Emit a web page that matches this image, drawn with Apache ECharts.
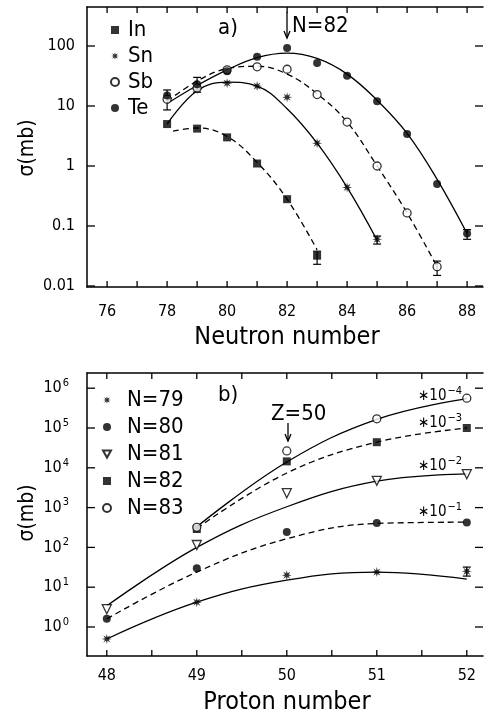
<!DOCTYPE html>
<html>
<head>
<meta charset="utf-8">
<script src="https://cdn.jsdelivr.net/npm/echarts@6/dist/echarts.min.js"></script>
<style>
  html, body { margin: 0; padding: 0; background: #fff; }
  #chart { width: 484px; height: 716px; }
</style>
</head>
<body>
<div id="chart"></div>
<script>
// ---- panel a) : cross section vs neutron number ----
const neutronTicks = [76, 77, 78, 79, 80, 81, 82, 83, 84, 85, 86, 87, 88];
const neutronLabels = [76, 78, 80, 82, 84, 86, 88];
const sigmaTicksA = [0.01, 0.1, 1, 10, 100];

const inPts = [[78, 5.0], [79, 4.2], [80, 3.0], [81, 1.1], [82, 0.28], [83, 0.032]];
const snPts = [[79, 19], [80, 24], [81, 21.5], [82, 14], [83, 2.4], [84, 0.44], [85, 0.06]];
const sbPts = [[78, 13], [79, 20], [80, 40], [81, 45], [82, 41], [83, 15.5], [84, 5.4], [85, 1.0], [86, 0.165], [87, 0.021]];
const tePts = [[78, 15], [79, 23], [80, 38], [81, 66], [82, 93], [83, 52], [84, 32], [85, 12], [86, 3.4], [87, 0.5], [88, 0.075]];

// fitted curves
const inFit = [[78.2, 3.8], [79, 4.3], [80, 3.1], [81, 1.15], [82, 0.28], [83, 0.04]];
const snFit = [[78, 5], [79, 18], [80, 25], [81, 21.5], [82, 9], [83, 2.4], [84, 0.44], [85, 0.058]];
const sbFit = [[78, 12], [79, 26], [80, 42], [81, 46], [82, 34], [83, 16], [84, 5.4], [85, 1.0], [86, 0.165], [87, 0.021]];
const teFit = [[78, 11], [79, 22], [80, 40], [81, 64], [82, 76], [83, 62], [84, 34], [85, 12.5], [86, 3.5], [87, 0.6], [88, 0.075]];

// error bars [x, low, high]
const errA = [[83, 0.023, 0.038], [85, 0.05, 0.068], [87, 0.015, 0.026], [88, 0.06, 0.087], [78, 8.6, 18.5], [79, 17, 30]];

// ---- panel b) : cross section vs proton number ----
const protonTicks = [48, 48.5, 49, 49.5, 50, 50.5, 51, 51.5, 52];
const protonLabels = [48, 49, 50, 51, 52];
const sigmaTicksB = [1, 10, 100, 1e3, 1e4, 1e5, 1e6];

const n79Pts = [[48, 0.5], [49, 4.2], [50, 20], [51, 24], [52, 25]];
const n80Pts = [[48, 1.6], [49, 30], [50, 245], [51, 410], [52, 420]];
const n81Pts = [[48, 2.8], [49, 115], [50, 2300], [51, 4700], [52, 6900]];
const n82Pts = [[49, 290], [50, 14500], [51, 44000], [52, 100000]];
const n83Pts = [[49, 320], [50, 26500], [51, 170000], [52, 560000]];

const n79Fit = [[48, 0.5], [49, 4.2], [50, 15], [51, 24], [52, 16]];
const n80Fit = [[48, 1.6], [49, 24], [50, 165], [51, 400], [52, 430]];
const n81Fit = [[48, 3.4], [49, 100], [50, 1050], [51, 4600], [52, 7000]];
const n82Fit = [[49, 300], [50, 7400], [51, 44000], [52, 100000]];
const n83Fit = [[49, 330], [50, 14000], [51, 165000], [52, 550000]];

const errB = [[52, 19, 32]];

const FONT = "'Liberation Sans Narrow', 'DejaVu Sans Condensed', 'Liberation Sans', sans-serif";

// asterisk marker
function starPath(n, inner) {
  let d = '';
  for (let i = 0; i < 2 * n; i++) {
    const r = i % 2 === 0 ? 1 : inner;
    const a = Math.PI * i / n - Math.PI / 2;
    d += (i === 0 ? 'M' : 'L') + (r * Math.cos(a)).toFixed(3) + ',' + (r * Math.sin(a)).toFixed(3) + ' ';
  }
  return 'path://' + d + 'Z';
}
const ASTER = starPath(8, 0.4);
const TRI_DOWN = 'path://M0,0 L10,0 L5,9 Z';

const filled = { color: '#000' };
const hollow = { color: '#fff', borderColor: '#000', borderWidth: 1.3 };
const INK = { stroke: '#000', lineWidth: 1.3 };

function pts(name, data, symbol, size, style, xi, yi) {
  return {
    name: name, type: 'scatter', data: data, xAxisIndex: xi, yAxisIndex: yi,
    symbol: symbol, symbolSize: size, itemStyle: style, z: 5
  };
}
function fit(name, data, dashed, xi, yi) {
  return {
    name: name, type: 'line', data: data, xAxisIndex: xi, yAxisIndex: yi,
    showSymbol: false, smooth: 0.4, silent: true, z: 3,
    lineStyle: { color: '#000', width: 1.3, type: dashed ? [6, 4] : 'solid' }
  };
}
function errBars(data, xi, yi) {
  return {
    type: 'custom', data: data, xAxisIndex: xi, yAxisIndex: yi, z: 4,
    encode: { x: 0, y: [1, 2] },
    renderItem: function (params, api) {
      const x = api.value(0);
      const lo = api.coord([x, api.value(1)]);
      const hi = api.coord([x, api.value(2)]);
      const w = 4;
      const st = { stroke: '#000', lineWidth: 1.2 };
      return {
        type: 'group', children: [
          { type: 'line', shape: { x1: lo[0], y1: lo[1], x2: hi[0], y2: hi[1] }, style: st },
          { type: 'line', shape: { x1: lo[0] - w, y1: lo[1], x2: lo[0] + w, y2: lo[1] }, style: st },
          { type: 'line', shape: { x1: hi[0] - w, y1: hi[1], x2: hi[0] + w, y2: hi[1] }, style: st }
        ]
      };
    }
  };
}

// inward tick marks on all four sides, placed through the axes' scales
function tickMarks(xTicks, yTicks, refX, refY, xi, yi) {
  const data = xTicks.map(v => [v, refY, 0]).concat(yTicks.map(v => [refX, v, 1]));
  return {
    type: 'custom', data: data, xAxisIndex: xi, yAxisIndex: yi, z: 6, silent: true, clip: false,
    encode: { x: 0, y: 1 },
    renderItem: function (params, api) {
      const cs = params.coordSys;
      const p = api.coord([api.value(0), api.value(1)]);
      if (api.value(2) === 0) {
        const b = cs.y + cs.height, L = 6;
        return { type: 'group', children: [
          { type: 'line', shape: { x1: p[0], y1: b, x2: p[0], y2: b - L }, style: INK },
          { type: 'line', shape: { x1: p[0], y1: cs.y, x2: p[0], y2: cs.y + L }, style: INK }
        ] };
      }
      const r = cs.x + cs.width, L = 8;
      return { type: 'group', children: [
        { type: 'line', shape: { x1: cs.x, y1: p[1], x2: cs.x + L, y2: p[1] }, style: INK },
        { type: 'line', shape: { x1: r, y1: p[1], x2: r - L, y2: p[1] }, style: INK }
      ] };
    }
  };
}

function xAx(gridIndex, pos, min, max, labels) {
  return {
    type: 'value', gridIndex: gridIndex, position: pos, min: min, max: max,
    axisLine: { show: true, onZero: false, lineStyle: { color: '#000', width: 1.5 } },
    axisTick: { show: false },
    axisLabel: pos === 'bottom'
      ? { show: true, customValues: labels, margin: gridIndex === 0 ? 17 : 12, color: '#000', fontSize: 16, fontFamily: FONT }
      : { show: false },
    splitLine: { show: false }
  };
}
function yAx(gridIndex, min, max, ticks, fmt) {
  return {
    type: 'log', logBase: 10, gridIndex: gridIndex, position: 'left', min: min, max: max,
    axisLine: { show: true, lineStyle: { color: '#000', width: 1.5 } },
    axisTick: { show: false },
    axisLabel: {
      show: true, customValues: ticks, margin: gridIndex === 0 ? 12 : 18, color: '#000',
      fontSize: 16, fontFamily: FONT, formatter: fmt,
      rich: {
        b: { fontSize: 16, fontFamily: FONT, color: '#000' },
        s: { fontSize: 11, fontFamily: FONT, color: '#000', padding: [0, 0, 10, 1] }
      }
    },
    splitLine: { show: false }
  };
}

const fmtA = v => String(+(+v).toPrecision(3));
const fmtB = v => '{b|10}{s|' + Math.round(Math.log10(v)) + '}';

const supRich = {
  a: { fontSize: 15, fontFamily: FONT, fill: '#000' },
  s: { fontSize: 11, fontFamily: FONT, fill: '#000', padding: [0, 0, 9, 1] }
};

const option = {
  animation: false,
  backgroundColor: '#fff',
  grid: [
    { left: 87, top: 7, width: 396, height: 280 },
    { left: 87, top: 373, width: 396, height: 283 }
  ],
  xAxis: [
    xAx(0, 'bottom', 75.33, 88.53, neutronLabels),
    xAx(0, 'top', 75.33, 88.53, neutronLabels),
    xAx(1, 'bottom', 47.78, 52.18, protonLabels),
    xAx(1, 'top', 47.78, 52.18, protonLabels)
  ],
  yAxis: [
    yAx(0, Math.pow(10, -2.0167), Math.pow(10, 2.65), sigmaTicksA, fmtA),
    yAx(1, Math.pow(10, -0.729), Math.pow(10, 6.382), sigmaTicksB, fmtB)
  ],
  legend: [
    {
      data: ['In', 'Sn', 'Sb', 'Te'], orient: 'vertical', left: 105, top: 14,
      itemWidth: 8, itemHeight: 8, itemGap: 4, selectedMode: false,
      textStyle: { fontSize: 22, fontFamily: FONT, color: '#000', padding: [0, 0, 0, 4] }
    },
    {
      data: ['N=79', 'N=80', 'N=81', 'N=82', 'N=83'], orient: 'vertical', left: 97, top: 384,
      itemWidth: 8, itemHeight: 8, itemGap: 5, selectedMode: false,
      textStyle: { fontSize: 22, fontFamily: FONT, color: '#000', padding: [0, 0, 0, 11] }
    }
  ],
  series: [
    tickMarks(neutronTicks, sigmaTicksA, 80, 1, 0, 0),
    fit('In fit', inFit, true, 0, 0),
    fit('Sn fit', snFit, false, 0, 0),
    fit('Sb fit', sbFit, true, 0, 0),
    fit('Te fit', teFit, false, 0, 0),
    errBars(errA, 0, 0),
    pts('In', inPts, 'rect', 8, filled, 0, 0),
    pts('Sn', snPts, ASTER, 10, filled, 0, 0),
    pts('Sb', sbPts, 'circle', 8, hollow, 0, 0),
    pts('Te', tePts, 'circle', 8, filled, 0, 0),

    tickMarks(protonTicks, sigmaTicksB, 50, 1, 2, 1),
    fit('N=79 fit', n79Fit, false, 2, 1),
    fit('N=80 fit', n80Fit, true, 2, 1),
    fit('N=81 fit', n81Fit, false, 2, 1),
    fit('N=82 fit', n82Fit, true, 2, 1),
    fit('N=83 fit', n83Fit, false, 2, 1),
    errBars(errB, 2, 1),
    pts('N=79', n79Pts, ASTER, 10, filled, 2, 1),
    pts('N=80', n80Pts, 'circle', 8, filled, 2, 1),
    pts('N=81', n81Pts, TRI_DOWN, 9, hollow, 2, 1),
    pts('N=82', n82Pts, 'rect', 8, filled, 2, 1),
    pts('N=83', n83Pts, 'circle', 8, hollow, 2, 1)
  ],
  graphic: [
    // axis titles
    { type: 'text', x: 28, y: 148, rotation: Math.PI / 2,
      style: { text: 'σ(mb)', fontSize: 21, fontFamily: FONT, fill: '#000', align: 'center', verticalAlign: 'middle' } },
    { type: 'text', x: 28, y: 513, rotation: Math.PI / 2,
      style: { text: 'σ(mb)', fontSize: 21, fontFamily: FONT, fill: '#000', align: 'center', verticalAlign: 'middle' } },
    { type: 'text', x: 287, y: 337,
      style: { text: 'Neutron number', fontSize: 25, fontFamily: FONT, fill: '#000', align: 'center', verticalAlign: 'middle' } },
    { type: 'text', x: 287, y: 702,
      style: { text: 'Proton number', fontSize: 25, fontFamily: FONT, fill: '#000', align: 'center', verticalAlign: 'middle' } },
    // panel a annotations
    { type: 'text', x: 218, y: 28,
      style: { text: 'a)', fontSize: 22, fontFamily: FONT, fill: '#000', verticalAlign: 'middle' } },
    { type: 'text', x: 292, y: 26,
      style: { text: 'N=82', fontSize: 22, fontFamily: FONT, fill: '#000', verticalAlign: 'middle' } },
    { type: 'polyline', shape: { points: [[287, 12], [287, 38]] }, style: { stroke: '#000', lineWidth: 1.3, fill: null } },
    { type: 'polyline', shape: { points: [[284, 31], [287, 38], [290, 31]] }, style: { stroke: '#000', lineWidth: 1.3, fill: null } },
    // panel b annotations
    { type: 'text', x: 218, y: 395,
      style: { text: 'b)', fontSize: 22, fontFamily: FONT, fill: '#000', verticalAlign: 'middle' } },
    { type: 'text', x: 271, y: 414,
      style: { text: 'Z=50', fontSize: 22, fontFamily: FONT, fill: '#000', verticalAlign: 'middle' } },
    { type: 'polyline', shape: { points: [[288, 423], [288, 441]] }, style: { stroke: '#000', lineWidth: 1.3, fill: null } },
    { type: 'polyline', shape: { points: [[285, 434], [288, 441], [291, 434]] }, style: { stroke: '#000', lineWidth: 1.3, fill: null } },
    { type: 'text', x: 418, y: 396, style: { text: '{a|∗10}{s|−4}', verticalAlign: 'middle', rich: supRich } },
    { type: 'text', x: 418, y: 423, style: { text: '{a|∗10}{s|−3}', verticalAlign: 'middle', rich: supRich } },
    { type: 'text', x: 418, y: 466, style: { text: '{a|∗10}{s|−2}', verticalAlign: 'middle', rich: supRich } },
    { type: 'text', x: 418, y: 512, style: { text: '{a|∗10}{s|−1}', verticalAlign: 'middle', rich: supRich } }
  ]
};

const chart = echarts.init(document.getElementById('chart'), null, { renderer: 'canvas' });
chart.setOption(option);
</script>
</body>
</html>
